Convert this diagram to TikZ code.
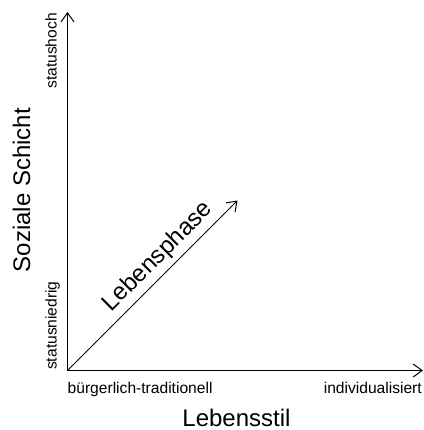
\documentclass[tikz,border=0pt]{standalone}
\usepackage{fontspec}
\setmainfont{Liberation Sans}
\usetikzlibrary{arrows.meta}
\tikzset{
  axis/.style={line width=1bp, -{Straight Barb[length=9bp,width=13bp,line width=1bp]}},
  small/.style={font=\fontsize{15.6bp}{18bp}\selectfont, inner sep=0pt},
  big/.style={font=\fontsize{24bp}{28bp}\selectfont, inner sep=0pt},
}
\begin{document}
\begin{tikzpicture}[x=1bp, y=1bp]
\useasboundingbox (0,0) rectangle (424,-430);
\coordinate (O) at (67.5,-370.5);
\coordinate (Ytop) at (67.5,-12);
\coordinate (Xend) at (423,-370.5);
\coordinate (D) at (237.5,-200.5);
\draw[axis] (O) -- (Ytop);
\draw[axis] (O) -- (Xend);
\draw[axis] (O) -- (D) node[pos=0.6, sloped, anchor=base, yshift=10bp, big] (lp) {Lebensphase};
\node[small, rotate=90, anchor=base east] (sh) at (56.5,-13) {statushoch};
\node[small, rotate=90, anchor=base west] (sn) at (56.5,-370) {statusniedrig};
\node[big, rotate=90, anchor=base] (ss) at (30,-190) {Soziale Schicht};
\node[small, anchor=base west] (bt) at (67.5,-393) {bürgerlich-traditionell};
\node[small, anchor=base east] (ind) at (422,-393) {individualisiert};
\node[big, anchor=base] (ls) at (236.5,-426) {Lebensstil};
\end{tikzpicture}
\end{document}
